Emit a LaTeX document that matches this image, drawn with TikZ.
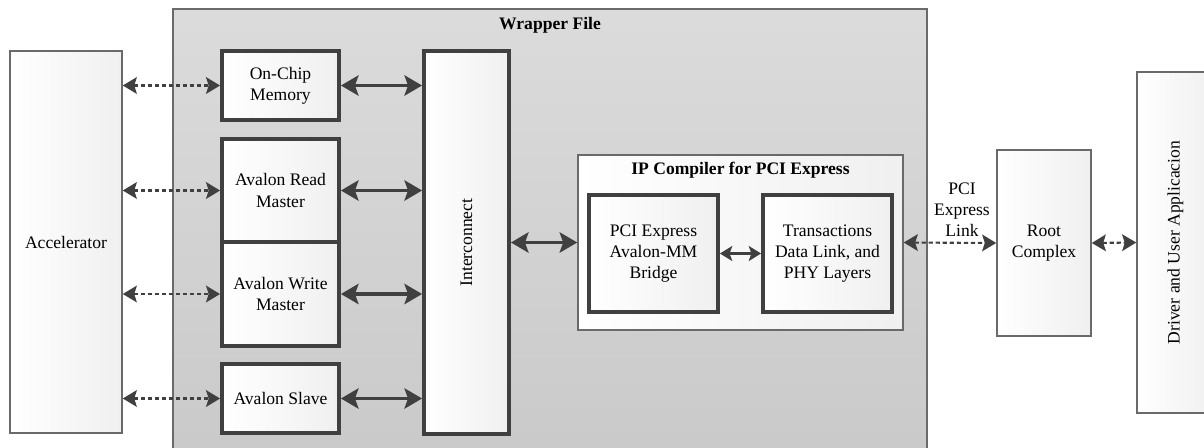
\documentclass[tikz,border=0pt]{standalone}
\usepackage{fontspec}
\setmainfont{Liberation Serif}
\usetikzlibrary{arrows.meta,positioning}
\definecolor{edge}{HTML}{404040}
\definecolor{rim}{HTML}{6A6A6A}

\begin{document}
\begin{tikzpicture}[x=0.02cm,y=-0.02cm,
    every node/.style={font=\fontsize{10}{12}\selectfont},
    title/.style={font=\fontsize{10}{12}\selectfont\bfseries},
    wrapbox/.style={draw=rim,line width=1pt,top color=gray!28,bottom color=gray!42,inner sep=0pt},
    outer/.style={draw=rim,line width=0.9pt,left color=white,right color=gray!12,align=center,inner sep=0pt},
    block/.style={draw=edge,line width=2.2pt,left color=white,right color=gray!12,align=center,inner sep=0pt},
    bus/.style={draw=edge,line width=2pt,{Stealth[length=10pt,width=11.5pt,inset=2pt]}-{Stealth[length=10pt,width=11.5pt,inset=2pt]}},
    thin bus/.style={draw=edge,line width=1.5pt,{Stealth[length=7pt,width=8.5pt,inset=1.5pt]}-{Stealth[length=7pt,width=8.5pt,inset=1.5pt]}},
    link/.style={draw=edge,line width=1.2pt,dash pattern=on 2.4pt off 1.6pt,{Stealth[length=8pt,width=9.5pt,inset=1.5pt]}-{Stealth[length=8pt,width=9.5pt,inset=1.5pt]}}]
        \useasboundingbox (0,0) rectangle (1204,447);

        \path
        % wrapper
        (550,234.5) node[wrapbox,minimum width=15.08cm,minimum height=9.02cm](Wrap) {}
        (550,25) node[title](WrapLbl) {Wrapper File}

        % left
        (66,242) node[outer,minimum width=2.24cm,minimum height=7.64cm](Acc) {Accelerator}

        (280.5,85.5) node[block,minimum width=2.34cm,minimum height=1.38cm](Mem) {On-Chip\\Memory}
        (280.5,190.5) node[block,minimum width=2.34cm,minimum height=2.06cm](RdM) {Avalon Read\\Master}
        (280.5,294) node[block,minimum width=2.34cm,minimum height=2.08cm](WrM) {Avalon Write\\Master}
        (280.5,398.5) node[block,minimum width=2.34cm,minimum height=1.38cm](Slv) {Avalon Slave}

        (466.5,242.5) node[block,minimum width=1.7cm,minimum height=7.66cm](Ic) {}
        (466.5,242.5) node[rotate=90](IcLbl) {Interconnect}

        % middle
        (740.5,242.5) node[outer,minimum width=6.5cm,minimum height=3.5cm](Ip) {}
        (740.5,170) node[title](IpLbl) {IP Compiler for PCI Express}
        (653.5,253.5) node[block,minimum width=2.58cm,minimum height=2.34cm](Br) {PCI Express\\Avalon-MM\\Bridge}
        (827.5,253.5) node[block,minimum width=2.58cm,minimum height=2.34cm](Tl) {Transactions\\Data Link, and\\PHY Layers}

        % right
        (1044,243) node[outer,minimum width=1.88cm,minimum height=3.72cm](Rc) {Root\\Complex}
        (1175.5,242.5) node[outer,minimum width=1.54cm,minimum height=6.82cm](Drv) {}
        (1175.5,242.5) node[rotate=90](DrvLbl) {Driver and User Applicacion}
        ;

        \draw[link] (Mem.west -| Acc.east) -- (Mem.west);
        \draw[link] (RdM.west -| Acc.east) -- (RdM.west);
        \draw[link] (WrM.west -| Acc.east) -- (WrM.west);
        \draw[link] (Slv.west -| Acc.east) -- (Slv.west);

        \draw[bus] (Mem.east) -- (Mem.east -| Ic.west);
        \draw[bus] (RdM.east) -- (RdM.east -| Ic.west);
        \draw[bus] (WrM.east) -- (WrM.east -| Ic.west);
        \draw[bus] (Slv.east) -- (Slv.east -| Ic.west);
        \draw[bus] (Ic.east) -- (Ip.west);

        \draw[thin bus] (Br.east) -- (Tl.west);

        \draw[link] (Ip.east) -- node[pos=0.63,above=3pt,inner sep=0pt,align=center](LinkLbl) {PCI\\Express\\Link} (Rc.west);
        \draw[link] (Rc.east) -- (Drv.west);
      \end{tikzpicture}
\end{document}
